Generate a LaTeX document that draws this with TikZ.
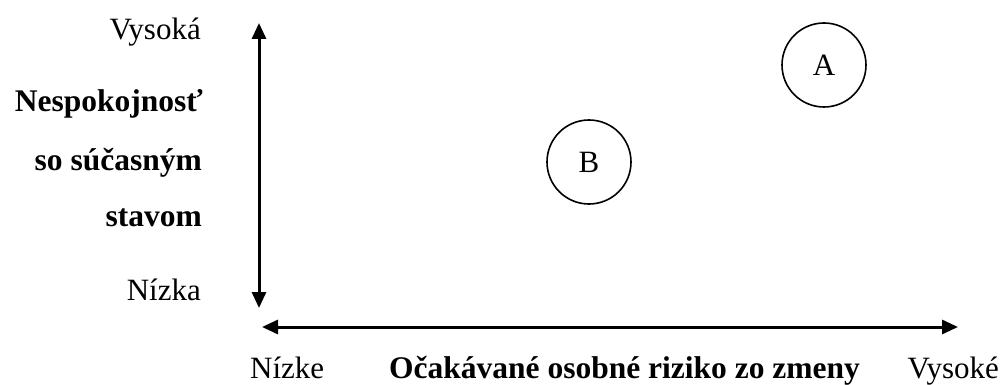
\documentclass[tikz,border=0pt]{standalone}
\usepackage{fontspec}
\setmainfont{Liberation Serif}
\usetikzlibrary{arrows.meta}
\begin{document}
\begin{tikzpicture}[x=1pt,y=-1pt,
  lbl/.style={font=\fontsize{31}{34}\selectfont, inner sep=0pt},
  blbl/.style={font=\fontsize{31.5}{34}\selectfont\bfseries, inner sep=0pt},
  axis/.style={line width=3pt, {Triangle[width=14pt,length=16pt]}-{Triangle[width=14pt,length=16pt]}},
  pt/.style={circle, draw, line width=1.6pt, minimum size=84pt, inner sep=0pt, font=\fontsize{31}{34}\selectfont}]
\useasboundingbox (0,0) rectangle (1002,385);
\coordinate (vt) at (259,23);
\coordinate (vb) at (259,308);
\coordinate (hl) at (262,327);
\coordinate (hr) at (958,327);
\draw[axis] (vt) -- (vb);
\draw[axis] (hl) -- (hr);
\node[pt] (A) at (824,65) {A};
\node[pt] (B) at (589,162) {B};
\node[lbl, anchor=base east] (vys) at (201,40) {Vysoká};
\node[blbl, anchor=base east] (n1) at (203,112) {Nespokojnosť};
\node[blbl, anchor=base east] (n2) at (202,171) {so súčasným};
\node[blbl, anchor=base east] (n3) at (202,226) {stavom};
\node[lbl, anchor=base east] (niz) at (201,300) {Nízka};
\node[lbl, anchor=base west] (nizke) at (250,378) {Nízke};
\node[blbl, anchor=base west] (ocak) at (389,378) {Očakávané osobné riziko zo zmeny};
\node[lbl, anchor=base east] (vysoke) at (999,378) {Vysoké};
\end{tikzpicture}
\end{document}
